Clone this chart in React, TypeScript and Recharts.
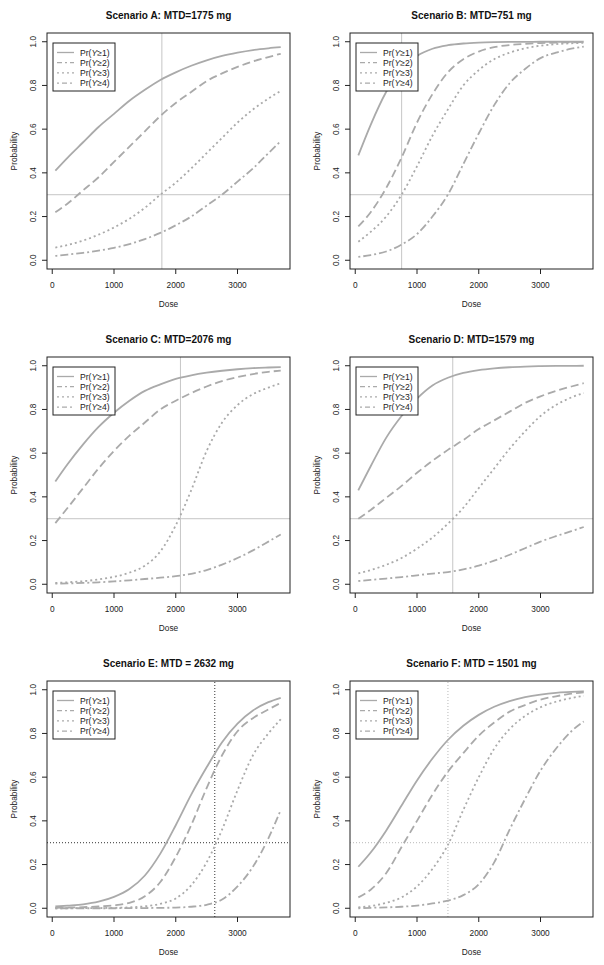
import React from "react"
import { LineChart, Line, XAxis, YAxis, ReferenceLine } from "recharts"

const DOSES = [50, 250, 500, 750, 1000, 1250, 1500, 1750, 2000, 2250, 2500, 2750, 3000, 3250, 3500, 3700]
const X_TICKS = [0, 1000, 2000, 3000]
const Y_TICKS = [0, 0.2, 0.4, 0.6, 0.8, 1]
const LEGEND_LABELS = ["1", "2", "3", "4"]

// Scenario A
const aGe1 = [0.41, 0.47, 0.54, 0.61, 0.67, 0.73, 0.78, 0.825, 0.86, 0.89, 0.915, 0.935, 0.95, 0.962, 0.97, 0.975]
const aGe2 = [0.22, 0.26, 0.32, 0.38, 0.45, 0.52, 0.59, 0.66, 0.72, 0.77, 0.82, 0.855, 0.885, 0.91, 0.93, 0.945]
const aGe3 = [0.058, 0.07, 0.09, 0.117, 0.15, 0.19, 0.24, 0.3, 0.355, 0.42, 0.49, 0.56, 0.63, 0.69, 0.74, 0.775]
const aGe4 = [0.02, 0.026, 0.034, 0.044, 0.057, 0.074, 0.097, 0.125, 0.16, 0.2, 0.25, 0.3, 0.36, 0.42, 0.49, 0.545]
// Scenario B
const bGe1 = [0.48, 0.62, 0.77, 0.875, 0.935, 0.968, 0.984, 0.992, 0.996, 0.998, 0.999, 0.999, 1, 1, 1, 1]
const bGe2 = [0.155, 0.22, 0.33, 0.47, 0.63, 0.76, 0.86, 0.92, 0.955, 0.975, 0.985, 0.99, 0.994, 0.996, 0.997, 0.998]
const bGe3 = [0.085, 0.13, 0.2, 0.3, 0.43, 0.57, 0.69, 0.8, 0.87, 0.92, 0.95, 0.97, 0.982, 0.989, 0.993, 0.995]
const bGe4 = [0.015, 0.024, 0.04, 0.072, 0.12, 0.2, 0.3, 0.44, 0.58, 0.71, 0.81, 0.875, 0.925, 0.95, 0.968, 0.978]
// Scenario C
const cGe1 = [0.47, 0.55, 0.64, 0.72, 0.785, 0.84, 0.885, 0.915, 0.94, 0.956, 0.968, 0.977, 0.984, 0.989, 0.992, 0.994]
const cGe2 = [0.28, 0.35, 0.44, 0.53, 0.61, 0.68, 0.74, 0.8, 0.84, 0.875, 0.905, 0.93, 0.948, 0.962, 0.972, 0.978]
const cGe3 = [0.006, 0.009, 0.014, 0.022, 0.034, 0.053, 0.085, 0.15, 0.27, 0.43, 0.61, 0.74, 0.82, 0.87, 0.9, 0.92]
const cGe4 = [0.003, 0.004, 0.006, 0.009, 0.013, 0.018, 0.024, 0.03, 0.037, 0.048, 0.065, 0.09, 0.12, 0.155, 0.195, 0.228]
// Scenario D
const dGe1 = [0.43, 0.54, 0.67, 0.77, 0.85, 0.91, 0.945, 0.967, 0.98, 0.988, 0.993, 0.996, 0.998, 0.999, 0.999, 1]
const dGe2 = [0.3, 0.34, 0.395, 0.45, 0.51, 0.565, 0.615, 0.66, 0.71, 0.75, 0.79, 0.83, 0.86, 0.885, 0.905, 0.92]
const dGe3 = [0.05, 0.065, 0.089, 0.12, 0.163, 0.214, 0.277, 0.35, 0.44, 0.53, 0.62, 0.7, 0.77, 0.82, 0.855, 0.875]
const dGe4 = [0.015, 0.02, 0.026, 0.033, 0.041, 0.049, 0.056, 0.068, 0.085, 0.108, 0.135, 0.165, 0.195, 0.22, 0.243, 0.262]
// Scenario E
const eGe1 = [0.008, 0.012, 0.018, 0.03, 0.052, 0.088, 0.15, 0.25, 0.38, 0.52, 0.645, 0.76, 0.845, 0.905, 0.943, 0.963]
const eGe2 = [0.002, 0.003, 0.005, 0.008, 0.013, 0.025, 0.055, 0.12, 0.235, 0.38, 0.55, 0.7, 0.81, 0.87, 0.91, 0.94]
const eGe3 = [0, 0, 0.001, 0.001, 0.002, 0.004, 0.009, 0.02, 0.045, 0.105, 0.21, 0.36, 0.54, 0.7, 0.8, 0.865]
const eGe4 = [0, 0, 0, 0, 0, 0.001, 0.001, 0.002, 0.003, 0.007, 0.016, 0.04, 0.1, 0.19, 0.32, 0.45]
// Scenario F
const fGe1 = [0.19, 0.255, 0.355, 0.47, 0.585, 0.685, 0.77, 0.835, 0.885, 0.922, 0.948, 0.966, 0.978, 0.986, 0.99, 0.993]
const fGe2 = [0.05, 0.085, 0.16, 0.28, 0.4, 0.52, 0.625, 0.71, 0.79, 0.85, 0.9, 0.93, 0.955, 0.97, 0.982, 0.988]
const fGe3 = [0.004, 0.01, 0.025, 0.05, 0.1, 0.18, 0.29, 0.45, 0.6, 0.73, 0.82, 0.88, 0.92, 0.945, 0.962, 0.972]
const fGe4 = [0, 0.002, 0.004, 0.007, 0.012, 0.022, 0.035, 0.06, 0.11, 0.21, 0.36, 0.5, 0.63, 0.73, 0.81, 0.855]

const TITLES = [
  "Scenario A: MTD=1775 mg",
  "Scenario B: MTD=751 mg",
  "Scenario C: MTD=2076 mg",
  "Scenario D: MTD=1579 mg",
  "Scenario E: MTD = 2632 mg",
  "Scenario F: MTD = 1501 mg",
]
const MTDS = [1775, 751, 2076, 1579, 2632, 1501]
const TARGET = 0.3
const CURVES = [
  [aGe1, aGe2, aGe3, aGe4],
  [bGe1, bGe2, bGe3, bGe4],
  [cGe1, cGe2, cGe3, cGe4],
  [dGe1, dGe2, dGe3, dGe4],
  [eGe1, eGe2, eGe3, eGe4],
  [fGe1, fGe2, fGe3, fGe4],
]

const FONT = "'Liberation Sans', Arial, Helvetica, sans-serif"
const CURVE_COLOR = "#aaaaaa"
const DASHES = [undefined, "8 4", "2 3", "2 3 8 3"]
const LEGEND_DASHES = [undefined, "5 3 2 3", "2 3", "2 3 5 3"]

// reference line look per scenario (A-D solid grey, E black dotted, F grey dotted)
const REF_STYLE = [
  { stroke: "#c6c6c6", dash: undefined },
  { stroke: "#c6c6c6", dash: undefined },
  { stroke: "#c6c6c6", dash: undefined },
  { stroke: "#c6c6c6", dash: undefined },
  { stroke: "#333333", dash: "1 2" },
  { stroke: "#b8b8b8", dash: "1 2" },
]

const W = 302
const H = 322
const PLOT = { left: 47, top: 33, right: 290, bottom: 269 }

function YTick(props: any) {
  const { x, y, payload } = props
  return (
    <text x={x} y={y} transform={`rotate(-90 ${x} ${y})`} textAnchor="middle"
      fontSize={8.3} fontFamily={FONT} fill="#222">
      {Number(payload.value).toFixed(1)}
    </text>
  )
}

function Panel({ idx, left, top }: { idx: number; left: number; top: number }) {
  const [g1, g2, g3, g4] = CURVES[idx]
  const rows = DOSES.map((d, i) => ({ dose: d, p1: g1[i], p2: g2[i], p3: g3[i], p4: g4[i] }))
  const ref = REF_STYLE[idx]
  const cx = (PLOT.left + PLOT.right) / 2
  const cy = (PLOT.top + PLOT.bottom) / 2
  return (
    <div style={{ position: "absolute", left, top, width: W, height: H }}>
      <LineChart width={W} height={H} data={rows}
        margin={{ top: PLOT.top, right: W - PLOT.right, bottom: H - PLOT.bottom - 20, left: PLOT.left - 20 }}>
        <XAxis type="number" dataKey="dose" domain={[-85, 3850]} ticks={X_TICKS} height={20}
          axisLine={false} tickSize={5} tickMargin={8} tickLine={{ stroke: "#222" }}
          tick={{ fontSize: 8.3, fontFamily: FONT, fill: "#222" }} interval={0} />
        <YAxis type="number" domain={[-0.04, 1.04]} ticks={Y_TICKS} width={20}
          axisLine={false} tickSize={5} tickMargin={6} tickLine={{ stroke: "#222" }}
          tick={<YTick />} interval={0} />
        <ReferenceLine x={MTDS[idx]} stroke={ref.stroke} strokeWidth={1} strokeDasharray={ref.dash} />
        <ReferenceLine y={TARGET} stroke={ref.stroke} strokeWidth={1} strokeDasharray={ref.dash} />
        {["p1", "p2", "p3", "p4"].map((k, i) => (
          <Line key={k} dataKey={k} type="monotone" stroke={CURVE_COLOR} strokeWidth={1.8}
            strokeDasharray={DASHES[i]} dot={false} activeDot={false} isAnimationActive={false} />
        ))}
      </LineChart>
      <svg width={W} height={H} style={{ position: "absolute", left: 0, top: 0, pointerEvents: "none" }}>
        <rect x={PLOT.left} y={PLOT.top} width={PLOT.right - PLOT.left} height={PLOT.bottom - PLOT.top}
          fill="none" stroke="#222" strokeWidth={1} />
        <text x={cx} y={19} textAnchor="middle" fontSize={10} fontWeight="bold" fontFamily={FONT} fill="#111">
          {TITLES[idx]}
        </text>
        <text x={cx} y={307} textAnchor="middle" fontSize={8.3} fontFamily={FONT} fill="#222">Dose</text>
        <text x={17} y={cy} transform={`rotate(-90 17 ${cy})`} textAnchor="middle" fontSize={8.3}
          fontFamily={FONT} fill="#222">Probability</text>
        <rect x={53} y={43} width={62} height={48} fill="#fff" stroke="#222" strokeWidth={1} />
        {LEGEND_LABELS.map((n, i) => {
          const ly = 52.5 + i * 10.2
          return (
            <g key={n}>
              <line x1={57} x2={74} y1={ly} y2={ly} stroke={CURVE_COLOR} strokeWidth={1.3}
                strokeDasharray={LEGEND_DASHES[i]} />
              <text x={80} y={ly + 3} fontSize={8.6} fontFamily={FONT} fill="#222">
                Pr(<tspan fontStyle="italic">Y</tspan>≥{n})
              </text>
            </g>
          )
        })}
      </svg>
    </div>
  )
}

export default function App() {
  return (
    <div style={{ position: "absolute", left: 0, top: 0, width: 604, height: 965, background: "#fff" }}>
      {TITLES.map((_, i) => (
        <Panel key={i} idx={i} left={(i % 2) * 303} top={Math.floor(i / 2) * 324} />
      ))}
    </div>
  )
}
